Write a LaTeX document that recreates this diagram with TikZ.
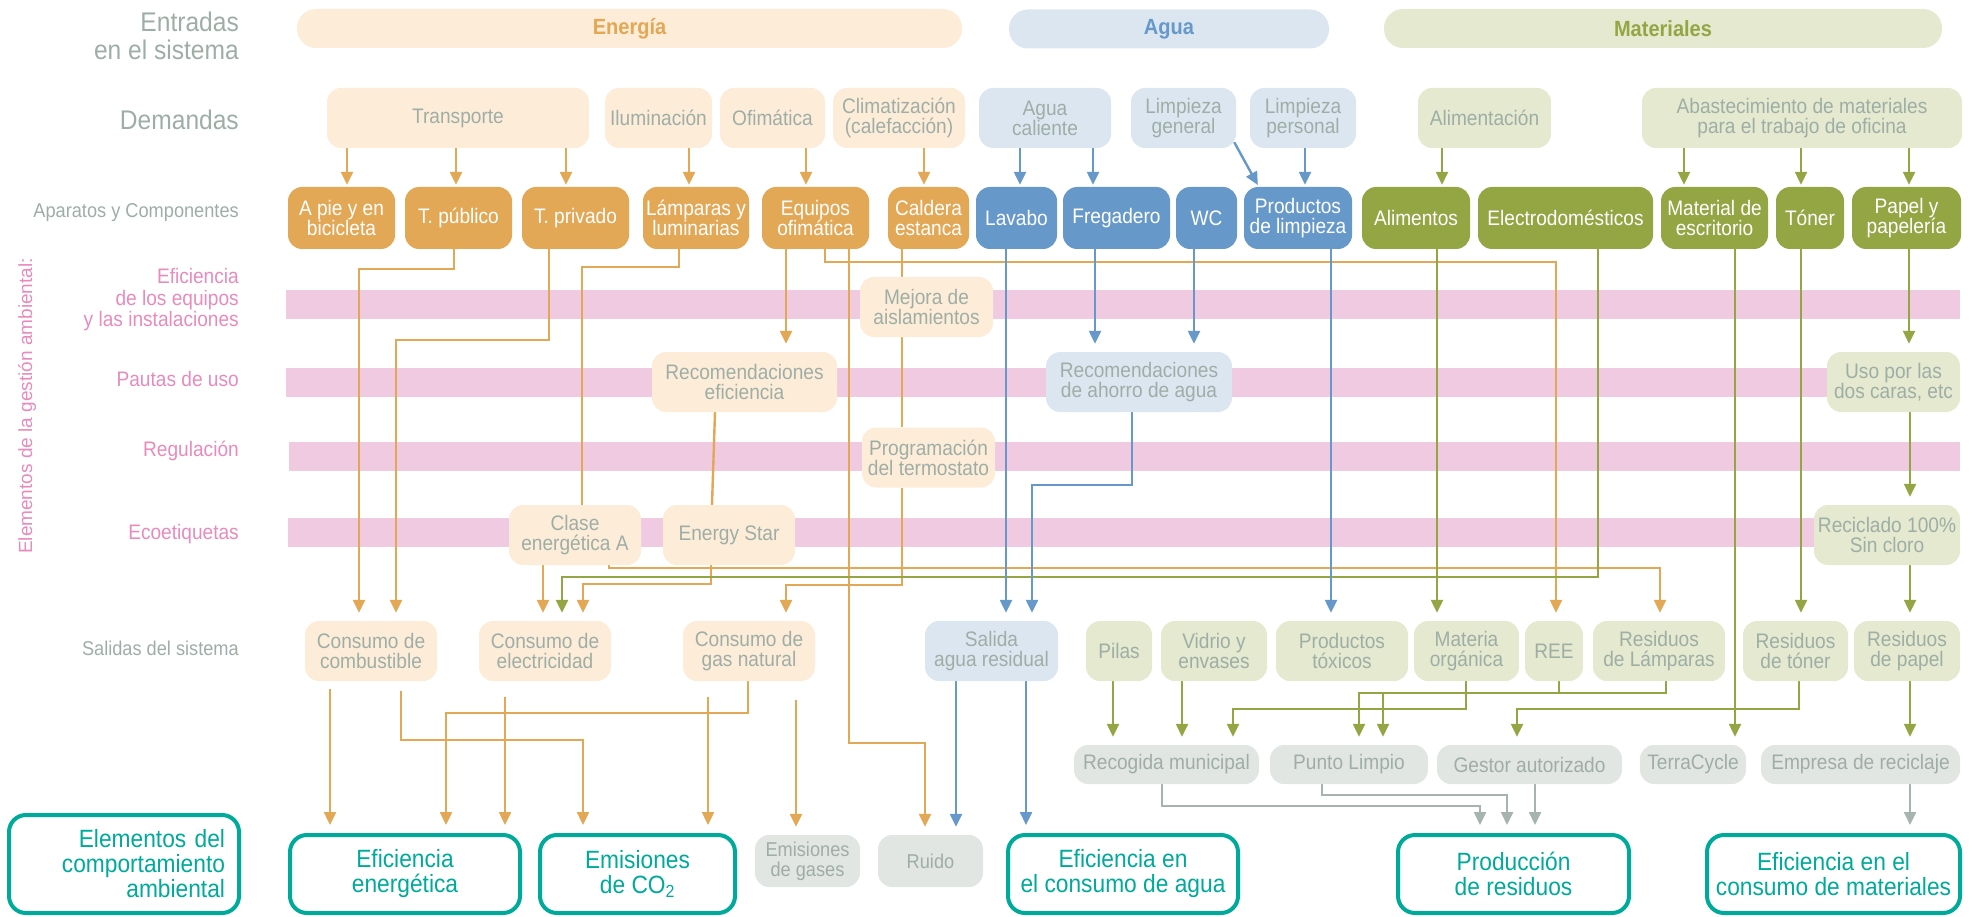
\documentclass[tikz,border=0pt]{standalone}
\usepackage{fontspec}
\setmainfont{Liberation Sans}[FakeStretch=0.91]
\newfontfamily\rotfont{Liberation Sans}
\usetikzlibrary{arrows.meta}

\definecolor{naranja}{RGB}{226,168,86}
\definecolor{naranjaclaro}{RGB}{253,236,216}
\definecolor{azul}{RGB}{102,153,201}
\definecolor{azulclaro}{RGB}{220,230,241}
\definecolor{verde}{RGB}{148,165,68}
\definecolor{verdeclaro}{RGB}{228,233,207}
\definecolor{grisclaro}{RGB}{226,230,227}
\definecolor{gris}{RGB}{158,174,166}
\definecolor{grislinea}{RGB}{166,180,173}
\definecolor{rosa}{RGB}{240,202,225}
\definecolor{rosatexto}{RGB}{231,139,188}
\definecolor{turquesa}{RGB}{0,170,155}

\pgfdeclarelayer{fondo}
\pgfdeclarelayer{lineas}
\pgfsetlayers{fondo,lineas,main}

\tikzset{
  ancho/.style={minimum width=#1pt},
  alto/.style={minimum height=#1pt},
  etiq/.style={anchor=east, align=right, inner sep=0pt, text=gris, font=\fontsize{20}{20}\selectfont},
  caja/.style={rounded corners=14pt, align=center, inner sep=0pt, text=gris, font=\fontsize{21}{20}\selectfont},
  barra/.style={rounded corners=19pt, inner sep=0pt, minimum height=39pt, font=\bfseries\fontsize{22}{22}\selectfont},
  final/.style={caja, draw=turquesa, line width=4pt, text=turquesa, fill=white, rounded corners=17pt, font=\fontsize{25}{25}\selectfont},
  flecha/.style={line width=2.4pt, -{Triangle[length=13pt,width=12pt]}, shorten >=8pt},
  corta/.style={shorten >=2pt},
  oarr/.style={flecha, naranja},
  barr/.style={flecha, azul},
  garr/.style={flecha, verde},
  grarr/.style={flecha, grislinea},
  olin/.style={line width=2.4pt, naranja}
}

\begin{document}
\begin{tikzpicture}[x=1pt,y=-1pt]
\useasboundingbox (0,0) rectangle (1975,917);

\begin{pgfonlayer}{fondo}
  \fill[rosa] (286,290) rectangle (1960,319);
  \fill[rosa] (286,368) rectangle (1960,397);
  \fill[rosa] (289,442) rectangle (1960,471);
  \fill[rosa] (288,518) rectangle (1960,547);
\end{pgfonlayer}

\begin{scope}[every node/.style={etiq}]
  \node[font=\fontsize{27}{28}\selectfont] (lentradas) at (239,36) {Entradas\\en el sistema};
  \node[font=\fontsize{27}{28}\selectfont] (ldemandas) at (239,120) {Demandas};
  \node (laparatos) at (239,213) {Aparatos y Componentes};
  \node (lsalidas) at (239,648) {Salidas del sistema};
\end{scope}

\begin{scope}[every node/.style={etiq, text=rosatexto, font=\fontsize{21}{21.5}\selectfont}]
  \node (lefic) at (239,300) {Eficiencia\\de los equipos\\y las instalaciones};
  \node (lpautas) at (239,379) {Pautas de uso};
  \node (lregul) at (239,451) {Regulación};
  \node (lecoet) at (239,534) {Ecoetiquetas};
\end{scope}
\node[rotate=90, inner sep=0pt, text=rosatexto, font=\rotfont\fontsize{19}{19}\selectfont] (lgestion) at (27,406) {Elementos de la gestión ambiental:};

\begin{scope}[every node/.style={barra}]
  \node[fill=naranjaclaro, text=naranja, ancho=665] (energia) at (629.5,28.5) {Energía};
  \node[fill=azulclaro, text=azul, ancho=320] (agua) at (1169,29) {Agua};
  \node[fill=verdeclaro, text=verde, ancho=558] (materiales) at (1663,28.5) {Materiales};
\end{scope}

\begin{scope}[every node/.style={caja, alto=60}]
  \node[fill=naranjaclaro, ancho=262] (transporte) at (458,118) {Transporte};
  \node[fill=naranjaclaro, ancho=107] (iluminacion) at (658.5,118) {Iluminación};
  \node[fill=naranjaclaro, ancho=105] (ofimatica) at (772.5,118) {Ofimática};
  \node[fill=naranjaclaro, ancho=132] (climatizacion) at (899,118) {Climatización\\(calefacción)};
  \node[fill=azulclaro, ancho=132] (aguacal) at (1045,118) {Agua\\caliente};
  \node[fill=azulclaro, ancho=105] (limpgen) at (1183.5,118) {Limpieza\\general};
  \node[fill=azulclaro, ancho=106] (limppers) at (1303,118) {Limpieza\\personal};
  \node[fill=verdeclaro, ancho=133] (alimentacion) at (1484.5,118) {Alimentación};
  \node[fill=verdeclaro, ancho=320] (abastecimiento) at (1802,118) {Abastecimiento de materiales\\para el trabajo de oficina};
\end{scope}

\begin{scope}[every node/.style={caja, alto=62, text=white}]
  \node[fill=naranja, ancho=107] (apie) at (341.5,218) {A pie y en\\bicicleta};
  \node[fill=naranja, ancho=107] (tpublico) at (458.5,218) {T. público};
  \node[fill=naranja, ancho=107] (tprivado) at (575.5,218) {T. privado};
  \node[fill=naranja, ancho=106] (lamparas) at (696,218) {Lámparas y\\luminarias};
  \node[fill=naranja, ancho=107] (equipos) at (815.5,218) {Equipos\\ofimática};
  \node[fill=naranja, ancho=81] (caldera) at (928.5,218) {Caldera\\estanca};
  \node[fill=azul, ancho=81] (lavabo) at (1016.5,218) {Lavabo};
  \node[fill=azul, ancho=107] (fregadero) at (1116.5,218) {Fregadero};
  \node[fill=azul, ancho=61] (wc) at (1206.5,218) {WC};
  \node[fill=azul, ancho=108] (prodlimp) at (1298,218) {Productos\\de limpieza};
  \node[fill=verde, ancho=108] (alimentos) at (1416,218) {Alimentos};
  \node[fill=verde, ancho=175] (electro) at (1565.5,218) {Electrodomésticos};
  \node[fill=verde, ancho=107] (material) at (1714.5,218) {Material de\\escritorio};
  \node[fill=verde, ancho=68] (toner) at (1810,218) {Tóner};
  \node[fill=verde, ancho=109] (papel) at (1906.5,218) {Papel y\\papelería};
\end{scope}

\begin{scope}[every node/.style={caja, alto=60}]
  \node[fill=naranjaclaro, ancho=133] (mejora) at (926.5,307) {Mejora de\\aislamientos};
  \node[fill=naranjaclaro, ancho=185] (receficiencia) at (744.5,382) {Recomendaciones\\eficiencia};
  \node[fill=azulclaro, ancho=186] (recagua) at (1139,382) {Recomendaciones\\de ahorro de agua};
  \node[fill=verdeclaro, ancho=133] (uso) at (1893.5,382) {Uso por las\\dos caras, etc};
  \node[fill=naranjaclaro, ancho=133] (programacion) at (928.5,457.5) {Programación\\del termostato};
  \node[fill=naranjaclaro, ancho=132] (clase) at (575,535) {Clase\\energética A};
  \node[fill=naranjaclaro, ancho=132] (energystar) at (729,535) {Energy Star};
  \node[fill=verdeclaro, ancho=146] (reciclado) at (1887,535) {Reciclado 100\%\\Sin cloro};
\end{scope}

\begin{scope}[every node/.style={caja, alto=60}]
  \node[fill=naranjaclaro, ancho=132] (combust) at (371,651) {Consumo de\\combustible};
  \node[fill=naranjaclaro, ancho=132] (electr) at (545,651) {Consumo de\\electricidad};
  \node[fill=naranjaclaro, ancho=132] (gas) at (749,651) {Consumo de\\gas natural};
  \node[fill=azulclaro, ancho=133] (salidaagua) at (991.5,651) {Salida\\agua residual};
  \node[fill=verdeclaro, ancho=66] (pilas) at (1119,651) {Pilas};
  \node[fill=verdeclaro, ancho=106] (vidrio) at (1214,651) {Vidrio y\\envases};
  \node[fill=verdeclaro, ancho=132] (toxicos) at (1342,651) {Productos\\tóxicos};
  \node[fill=verdeclaro, ancho=105] (organica) at (1466.5,651) {Materia\\orgánica};
  \node[fill=verdeclaro, ancho=58] (ree) at (1554,651) {REE};
  \node[fill=verdeclaro, ancho=132] (reslamp) at (1659,651) {Residuos\\de Lámparas};
  \node[fill=verdeclaro, ancho=105] (restoner) at (1795.5,651) {Residuos\\de tóner};
  \node[fill=verdeclaro, ancho=106] (respapel) at (1907,651) {Residuos\\de papel};
\end{scope}

\begin{scope}[every node/.style={caja, alto=39, fill=grisclaro}]
  \node[ancho=185] (recogida) at (1166.5,764.5) {Recogida municipal};
  \node[ancho=158] (punto) at (1349,764.5) {Punto Limpio};
  \node[ancho=185] (gestor) at (1529.5,764.5) {Gestor autorizado};
  \node[ancho=106] (terracycle) at (1693,764.5) {TerraCycle};
  \node[ancho=199] (empresa) at (1860.5,764.5) {Empresa de reciclaje};
\end{scope}

\begin{scope}[every node/.style={final, alto=78}]
  \node[ancho=230, alto=98, text width=202pt, align=right] (elementos) at (124,864) {Elementos del\\comportamiento\\ambiental};
  \node[ancho=230] (efenerg) at (405,874) {Eficiencia\\energética};
  \node[ancho=195] (emisiones) at (637.5,874) {Emisiones\\de CO\textsubscript{2}};
  \node[ancho=230] (efagua) at (1123,874) {Eficiencia en\\el consumo de agua};
  \node[ancho=231] (produccion) at (1513.5,874) {Producción\\de residuos};
  \node[ancho=253] (efmateriales) at (1833.5,874) {Eficiencia en el\\consumo de materiales};
\end{scope}

\begin{scope}[every node/.style={caja, alto=52, fill=grisclaro, font=\fontsize{20}{20}\selectfont}]
  \node[ancho=105] (emgases) at (807.5,861) {Emisiones\\de gases};
  \node[ancho=105] (ruido) at (930.5,861) {Ruido};
\end{scope}

\begin{pgfonlayer}{lineas}
  \draw[oarr, corta] (transporte.south -| 347,0) -- (apie.north -| 347,0);
  \draw[oarr, corta] (transporte.south -| 456,0) -- (tpublico.north -| 456,0);
  \draw[oarr, corta] (transporte.south -| 566,0) -- (tprivado.north -| 566,0);
  \draw[oarr, corta] (iluminacion.south -| 689,0) -- (lamparas.north -| 689,0);
  \draw[oarr, corta] (ofimatica.south -| 806,0) -- (equipos.north -| 806,0);
  \draw[oarr, corta] (climatizacion.south -| 924,0) -- (caldera.north -| 924,0);
  \draw[barr, corta] (aguacal.south -| 1020,0) -- (lavabo.north -| 1020,0);
  \draw[barr, corta] (aguacal.south -| 1093,0) -- (fregadero.north -| 1093,0);
  \draw[barr, corta] ([xshift=-2pt,yshift=6pt]limpgen.south east) -- ([xshift=15pt]prodlimp.north west);
  \draw[barr, corta] (limppers.south -| 1305,0) -- (prodlimp.north -| 1305,0);
  \draw[garr, corta] (alimentacion.south -| 1442,0) -- (alimentos.north -| 1442,0);
  \draw[garr, corta] (abastecimiento.south -| 1684,0) -- (material.north -| 1684,0);
  \draw[garr, corta] (abastecimiento.south -| 1801,0) -- (toner.north -| 1801,0);
  \draw[garr, corta] (abastecimiento.south -| 1909,0) -- (papel.north -| 1909,0);

  \draw[oarr] (tpublico.south -| 454,0) -- (454,269) -- (359,269) -- (combust.north -| 359,0);
  \draw[oarr] (tprivado.south -| 549,0) -- (549,340) -- (396,340) -- (combust.north -| 396,0);
  \draw[olin] (lamparas.south -| 679,0) -- (679,267) -- (582,267) -- (clase.north -| 582,0);
  \draw[oarr] (equipos.south -| 786,0) -- (receficiencia.north -| 786,0);
  \draw[oarr] (equipos.south -| 825,0) -- (825,262) -- (1556,262) -- (ree.north -| 1556,0);
  \draw[oarr] (equipos.south -| 849,0) -- (849,743) -- (925,743) -- (ruido.north -| 925,0);
  \draw[olin] (caldera.south -| 902,0) -- (mejora.north -| 902,0);
  \draw[olin] (mejora.south -| 902,0) -- (programacion.north -| 902,0);
  \draw[oarr] (programacion.south -| 902,0) -- (902,585) -- (786,585) -- (gas.north -| 786,0);
  \draw[olin] ([xshift=-29.5pt]receficiencia.south) -- ([xshift=-17pt]energystar.north);
  \draw[oarr] (clase.south -| 543,0) -- (electr.north -| 543,0);
  \draw[oarr] (clase.south -| 609,0) -- (609,568) -- (1660,568) -- (reslamp.north -| 1660,0);
  \draw[oarr] (energystar.south -| 711,0) -- (711,584) -- (583,584) -- (electr.north -| 583,0);
  \draw[garr] (electro.south -| 1598,0) -- (1598,577) -- (562,577) -- (electr.north -| 562,0);

  \draw[barr] (lavabo.south -| 1006,0) -- (salidaagua.north -| 1006,0);
  \draw[barr] (fregadero.south -| 1095,0) -- (recagua.north -| 1095,0);
  \draw[barr] (wc.south -| 1194,0) -- (recagua.north -| 1194,0);
  \draw[barr] (recagua.south -| 1132,0) -- (1132,485) -- (1032,485) -- (salidaagua.north -| 1032,0);
  \draw[barr] (prodlimp.south -| 1331,0) -- (toxicos.north -| 1331,0);

  \draw[garr] (alimentos.south -| 1437,0) -- (organica.north -| 1437,0);
  \draw[garr] (material.south -| 1735,0) -- (terracycle.north -| 1735,0);
  \draw[garr] (toner.south -| 1801,0) -- (restoner.north -| 1801,0);
  \draw[garr] (papel.south -| 1909,0) -- (uso.north -| 1909,0);
  \draw[garr] (uso.south -| 1910,0) -- (reciclado.north -| 1910,0);
  \draw[garr] (reciclado.south -| 1910,0) -- (respapel.north -| 1910,0);

  \draw[oarr, shorten <=8pt] (combust.south -| 330,0) -- (efenerg.north -| 330,0);
  \draw[oarr, shorten <=10pt] (combust.south -| 401,0) -- (401,740) -- (583,740) -- (emisiones.north -| 583,0);
  \draw[oarr, shorten <=16pt] (electr.south -| 505,0) -- (efenerg.north -| 505,0);
  \draw[oarr] (gas.south -| 748,0) -- (748,713) -- (446,713) -- (efenerg.north -| 446,0);
  \draw[oarr, shorten <=16pt] (gas.south -| 708,0) -- (emisiones.north -| 708,0);
  \draw[oarr, shorten <=19pt] (gas.south -| 796,0) -- (emgases.north -| 796,0);
  \draw[barr] (salidaagua.south -| 956,0) -- (ruido.north -| 956,0);
  \draw[barr] (salidaagua.south -| 1026,0) -- (efagua.north -| 1026,0);

  \draw[garr] (pilas.south -| 1113,0) -- (recogida.north -| 1113,0);
  \draw[garr] (vidrio.south -| 1182,0) -- (recogida.north -| 1182,0);
  \draw[garr] (organica.south -| 1466,0) -- (1466,709) -- (1233,709) -- (recogida.north -| 1233,0);
  \draw[garr] (ree.south -| 1559,0) -- (1559,693) -- (1359,693) -- (punto.north -| 1359,0);
  \draw[garr] (reslamp.south -| 1666,0) -- (1666,693) -- (1383,693) -- (punto.north -| 1383,0);
  \draw[garr] (restoner.south -| 1799,0) -- (1799,709) -- (1517,709) -- (gestor.north -| 1517,0);
  \draw[garr] (respapel.south -| 1910,0) -- (empresa.north -| 1910,0);

  \draw[grarr] (recogida.south -| 1162,0) -- (1162,806) -- (1480,806) -- (produccion.north -| 1480,0);
  \draw[grarr] (punto.south -| 1322,0) -- (1322,795) -- (1507,795) -- (produccion.north -| 1507,0);
  \draw[grarr] (gestor.south -| 1535,0) -- (produccion.north -| 1535,0);
  \draw[grarr] (empresa.south -| 1910,0) -- (efmateriales.north -| 1910,0);
\end{pgfonlayer}

\end{tikzpicture}
\end{document}
